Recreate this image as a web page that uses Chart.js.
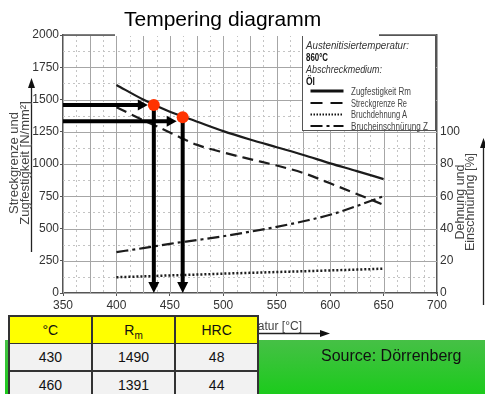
<!DOCTYPE html>
<html><head><meta charset="utf-8">
<script src="https://cdn.jsdelivr.net/npm/chart.js@4"></script>
<style>
html,body{margin:0;padding:0;background:#fff;}
#wrap{position:relative;width:485px;height:394px;overflow:hidden;font-family:"Liberation Sans",Arial,sans-serif;}
#c{position:absolute;left:0;top:0;}
.abs{position:absolute;white-space:nowrap;}
#title{left:115px;top:0;width:264px;height:36px;background:#fff;font-size:21px;line-height:21px;text-align:left;color:#000;}
#title span{position:relative;top:8px;left:9px;}
#ylab{left:-82px;top:141px;width:200px;height:44px;text-align:center;font-size:13px;line-height:11px;color:#444;transform:rotate(-90deg);padding-top:11.5px;box-sizing:border-box;}
#y2lab{left:365px;top:180px;width:200px;height:44px;text-align:center;font-size:12.5px;line-height:10.5px;color:#444;transform:rotate(-90deg);padding-top:11.5px;box-sizing:border-box;}
#xlab{right:183px;top:319px;font-size:12px;line-height:14px;color:#444;}
#legend{left:302px;top:34.5px;width:134px;height:96px;background:#fff;border:1.5px solid #555;box-sizing:border-box;}
.lg{color:#333;transform-origin:0 50%;}
.it{font-style:italic;font-size:11.5px;line-height:12px;}
.bd{font-weight:bold;font-size:11px;line-height:12px;color:#111;}
.en{font-size:10.5px;line-height:11px;color:#444;}
#green{left:5px;top:340px;width:480px;height:54px;background:linear-gradient(#46c046,#1ccb1c);}
#source{left:321px;top:347px;font-size:16px;line-height:18px;color:#111;}
#tbl{left:8px;top:315px;width:251px;background:#333;padding:1.5px;box-sizing:border-box;display:grid;grid-template-columns:1fr 1fr 1fr;grid-auto-rows:26px;gap:1.5px;font-size:14px;}
#tbl div{background:#f2f2f2;color:#111;text-align:center;line-height:26px;}
#tbl div.h{background:#ffff00;}
#tbl sub{font-size:10px;line-height:0;vertical-align:-4px;}
svg.ov{position:absolute;left:0;top:0;}
</style></head>
<body>
<div id="wrap">
<canvas id="c" width="485" height="394"></canvas>
<svg class="ov" width="485" height="394">
  <line x1="31.5" y1="252" x2="31.5" y2="86" stroke="#222" stroke-width="1.3"/>
  <polygon points="31.5,78 28,88 35,88" fill="#111"/>
  <line x1="483.5" y1="305" x2="483.5" y2="146" stroke="#222" stroke-width="1.3"/>
  <polygon points="483.5,138 480,148 487,148" fill="#111"/>
  <line x1="250" y1="333.5" x2="322" y2="333.5" stroke="#222" stroke-width="1.3"/>
  <polygon points="330,333.5 320,330 320,337" fill="#111"/>
</svg>
<div id="ylab" class="abs">Streckgrenze und<br>Zugfestigkeit [N/mm²]</div>
<div id="y2lab" class="abs">Dehnung und<br>Einschnürung [%]</div>
<div id="xlab" class="abs">Anlasstemperatur [°C]</div>
<div id="legend" class="abs"></div>
<div class="abs lg it" data-w="103" style="left:306px;top:39px;">Austenitisiertemperatur:</div>
<div class="abs lg bd" data-w="22" style="left:306px;top:51px;">860°C</div>
<div class="abs lg it" data-w="76" style="left:306px;top:63px;">Abschreckmedium:</div>
<div class="abs lg bd" data-w="9" style="left:306px;top:75px;">Öl</div>
<svg class="ov" width="485" height="394">
  <line x1="310.5" y1="91" x2="343.5" y2="91" stroke="#111" stroke-width="3"/>
  <line x1="310.5" y1="103" x2="343.5" y2="103" stroke="#111" stroke-width="2.2" stroke-dasharray="12,8"/>
  <line x1="310.5" y1="114.5" x2="343.5" y2="114.5" stroke="#111" stroke-width="2" stroke-dasharray="1.5,1.5"/>
  <line x1="310.5" y1="126" x2="343.5" y2="126" stroke="#111" stroke-width="2.2" stroke-dasharray="12,4,3,4"/>
</svg>
<div id="legtexts"></div>
<div id="title" class="abs"><span>Tempering diagramm</span></div>
<div id="green" class="abs"></div>
<div id="source" class="abs">Source: Dörrenberg</div>
<div id="tbl" class="abs"></div>
</div>
<script>
// ---- data ----
const temps = [400, 425, 450, 475, 500, 525, 550, 575, 600, 625, 650];
const rmValues = [1613, 1500, 1405, 1330, 1255, 1190, 1130, 1070, 1005, 945, 883];   // Zugfestigkeit Rm [N/mm²]
const reValues = [1440, 1340, 1245, 1150, 1090, 1038, 988, 930, 850, 768, 684];      // Streckgrenze Re [N/mm²]
const aValues  = [9.8, 10.3, 10.9, 11.4, 12.0, 12.5, 13.0, 13.5, 14.0, 14.5, 15.1];  // Bruchdehnung A [%]
const zValues  = [25.4, 27.8, 30.5, 32.8, 35.2, 38.0, 41.0, 44.5, 48.5, 54.0, 60.0]; // Brucheinschnürung Z [%]
const dotTemps = [435, 462];
const dotRm    = [1458, 1363];
const arrowRm  = [1458, 1332];
const xTicks   = [350, 400, 450, 500, 550, 600, 650, 700];
const legendLabels = ['Zugfestigkeit Rm', 'Streckgrenze Re', 'Bruchdehnung A', 'Brucheinschnürung Z'];
const tableHeader = ['°C', 'R<sub>m</sub>', 'HRC'];
const tableTemps = ['430', '460'];
const tableRm    = ['1490', '1391'];
const tableHRC   = ['48', '44'];

// legend texts
const legY = [85.5, 97.5, 109, 120.5];
const legW = [60, 56, 56, 77];
document.getElementById('legtexts').innerHTML = legendLabels.map((t,i)=>
  `<div class="abs lg en" data-w="${legW[i]}" style="left:351px;top:${legY[i]}px;">${t}</div>`).join('');
// condense legend texts horizontally to the narrow look of the original
document.querySelectorAll('.lg[data-w]').forEach(el => {
  const w = el.getBoundingClientRect().width;
  const target = +el.dataset.w;
  if (w > 0) el.style.transform = `scaleX(${Math.min(1, target / w)})`;
});
// table
const tbl = document.getElementById('tbl');
let html = tableHeader.map(h=>`<div class="h">${h}</div>`).join('');
for (let i=0;i<tableTemps.length;i++) html += `<div>${tableTemps[i]}</div><div>${tableRm[i]}</div><div>${tableHRC[i]}</div>`;
tbl.innerHTML = html;

const pts = (xs, ys) => xs.map((x,i)=>({x, y: ys[i]}));
const FONT = '"Liberation Sans", Arial, sans-serif';

const gridPlugin = {
  id: 'customGrid',
  beforeDatasetsDraw(chart) {
    const {ctx, chartArea: a, scales: {x, y}} = chart;
    ctx.save();
    ctx.beginPath(); ctx.rect(a.left, a.top, a.right - a.left, a.bottom - a.top); ctx.clip();
    for (let v = 350; v <= 700; v += 12.5) {
      const px = Math.round(x.getPixelForValue(v)) + 0.5;
      const major = (v % 25) === 0;
      ctx.strokeStyle = major ? '#a6a6a6' : '#c4c4c4';
      ctx.lineWidth = 1;
      ctx.setLineDash(major ? [] : [2, 3]);
      ctx.beginPath(); ctx.moveTo(px, a.top); ctx.lineTo(px, a.bottom); ctx.stroke();
    }
    for (let v = 0; v <= 2000; v += 125) {
      const py = Math.round(y.getPixelForValue(v)) + 0.5;
      const major = (v % 250) === 0;
      ctx.strokeStyle = major ? '#a6a6a6' : '#c4c4c4';
      ctx.lineWidth = 1;
      ctx.setLineDash(major ? [] : [2, 3]);
      ctx.beginPath(); ctx.moveTo(a.left, py); ctx.lineTo(a.right, py); ctx.stroke();
    }
    ctx.restore();
    ctx.save();
    ctx.strokeStyle = '#555'; ctx.lineWidth = 1.5;
    ctx.beginPath(); ctx.moveTo(a.left, a.top); ctx.lineTo(a.right, a.top); ctx.stroke();
    ctx.restore();
  }
};

const arrowPlugin = {
  id: 'arrows',
  beforeDatasetDraw(chart, args) {
    if (args.index !== 0) return;
    const {ctx, chartArea: a, scales: {x, y}} = chart;
    ctx.save();
    ctx.fillStyle = '#000'; ctx.strokeStyle = '#000'; ctx.lineWidth = 4;
    for (let i = 0; i < dotTemps.length; i++) {
      const dx = x.getPixelForValue(dotTemps[i]);
      const dy = y.getPixelForValue(dotRm[i]);
      const ay = y.getPixelForValue(arrowRm[i]);
      const x0 = x.getPixelForValue(350);
      const tip = dx - 6;
      ctx.beginPath(); ctx.moveTo(x0, ay); ctx.lineTo(tip - 8, ay); ctx.stroke();
      ctx.beginPath(); ctx.moveTo(tip, ay); ctx.lineTo(tip - 10, ay - 5.5); ctx.lineTo(tip - 10, ay + 5.5); ctx.closePath(); ctx.fill();
      const by = y.getPixelForValue(0);
      ctx.beginPath(); ctx.moveTo(dx, dy); ctx.lineTo(dx, by - 9); ctx.stroke();
      ctx.beginPath(); ctx.moveTo(dx, by); ctx.lineTo(dx - 5.5, by - 11); ctx.lineTo(dx + 5.5, by - 11); ctx.closePath(); ctx.fill();
    }
    ctx.restore();
  }
};

new Chart(document.getElementById('c'), {
  type: 'line',
  data: {
    datasets: [
      { label: 'Punkte', type: 'scatter', data: pts(dotTemps, dotRm), pointRadius: 6, pointBackgroundColor: '#ff3300', pointBorderWidth: 0, showLine: false, yAxisID: 'y' },
      { label: legendLabels[0], data: pts(temps, rmValues), borderColor: '#1c1c1c', borderWidth: 2.2, pointRadius: 0, cubicInterpolationMode: 'monotone', yAxisID: 'y' },
      { label: legendLabels[1], data: pts(temps, reValues), borderColor: '#1c1c1c', borderWidth: 2.2, borderDash: [11, 6], pointRadius: 0, cubicInterpolationMode: 'monotone', yAxisID: 'y' },
      { label: legendLabels[2], data: pts(temps, aValues), borderColor: '#1c1c1c', borderWidth: 2.5, borderDash: [2, 2], pointRadius: 0, cubicInterpolationMode: 'monotone', yAxisID: 'y2' },
      { label: legendLabels[3], data: pts(temps, zValues), borderColor: '#1c1c1c', borderWidth: 2.2, borderDash: [12, 4, 3, 4], pointRadius: 0, cubicInterpolationMode: 'monotone', yAxisID: 'y2' }
    ]
  },
  options: {
    responsive: false, animation: false, devicePixelRatio: 1,
    layout: { padding: { top: 35, left: 0, right: 0, bottom: 0 } },
    plugins: { legend: { display: false }, tooltip: { enabled: false }, title: { display: false } },
    scales: {
      x: {
        type: 'linear', min: 350, max: 700,
        afterBuildTicks(s) { s.ticks = xTicks.map(v => ({ value: v })); },
        ticks: { font: { family: FONT, size: 12 }, color: '#333', padding: 2, maxRotation: 0, callback: v => String(v) },
        grid: { drawOnChartArea: false, tickLength: 3, color: '#555' },
        border: { color: '#555', width: 1.5 },
        afterFit(s) { s.height = 101; }
      },
      y: {
        min: 0, max: 2000,
        ticks: { stepSize: 250, font: { family: FONT, size: 12 }, color: '#333', padding: 1, callback: v => String(v) },
        grid: { drawOnChartArea: false, tickLength: 3, color: '#555' },
        border: { color: '#555', width: 1.5 },
        afterFit(s) { s.width = 63; }
      },
      y2: {
        position: 'right', min: 0, max: 160,
        ticks: { stepSize: 20, font: { family: FONT, size: 12 }, color: '#333', padding: 3, callback: v => String(v) },
        afterBuildTicks(s) { s.ticks = s.ticks.filter(t => t.value <= 100); },
        grid: { drawOnChartArea: false, drawTicks: false },
        border: { color: '#555', width: 1.5 },
        afterFit(s) { s.width = 48; }
      }
    }
  },
  plugins: [gridPlugin, arrowPlugin]
});
</script>
</body></html>
